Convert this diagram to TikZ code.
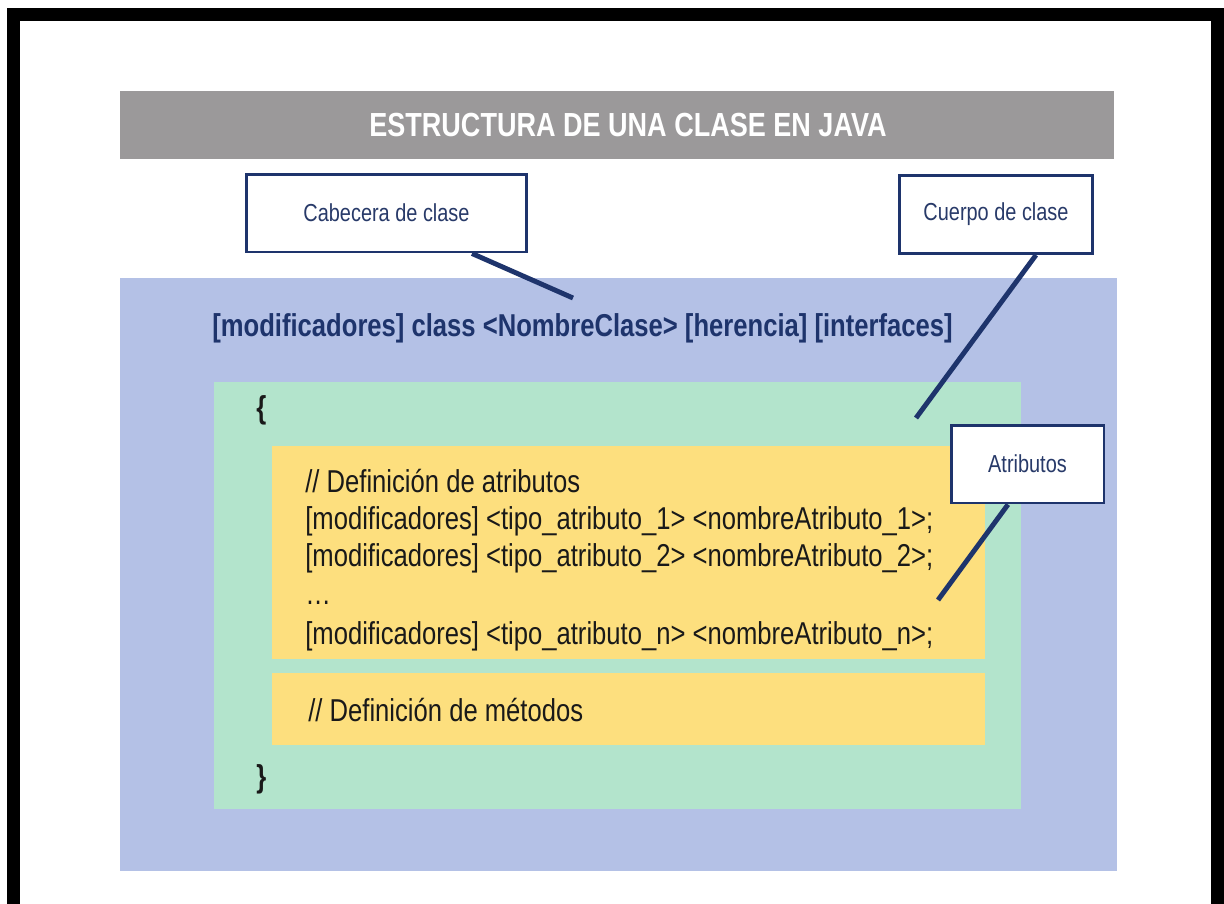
\documentclass[tikz,border=0pt]{standalone}
\usepackage{fontspec}
\setmainfont{Liberation Sans}[FakeStretch=0.81]
\usetikzlibrary{fit}
\definecolor{gristitulo}{RGB}{155,153,154}
\definecolor{azulzona}{RGB}{180,193,230}
\definecolor{verdezona}{RGB}{179,228,204}
\definecolor{amarillozona}{RGB}{253,223,126}
\definecolor{azuloscuro}{RGB}{30,52,108}
\definecolor{azultexto}{RGB}{40,58,105}
\begin{document}
\begin{tikzpicture}
    [x=0.02cm, y=-0.02cm,
    zona/.style={inner sep=0pt, outer sep=0pt},
    llamada/.style={draw=azuloscuro, line width=1.7pt, fill=white, text=azultexto,
      minimum height=1.56cm, font=\fontsize{14}{16}\selectfont},
    conector/.style={azuloscuro, line width=2.8pt},
    codigo/.style={anchor=base west, inner sep=0pt, text=black!90,
      font=\fontsize{18}{21}\selectfont}]
    \useasboundingbox (0,0) rectangle (1224,903);
    % marco negro
    \draw[line width=0.26cm] (13.5,920) -- (13.5,14) -- (1217.5,14) -- (1217.5,920);
    % titulo
    \node[zona, fill=gristitulo, fit={(120,91) (1114,159)}] (titulo) {};
    \node[text=white, font=\fontsize{19}{22}\bfseries\selectfont] (titulotexto) at (628,125)
      {ESTRUCTURA DE UNA CLASE EN JAVA};
    % zonas de color
    \node[zona, fill=azulzona, fit={(120,278) (1117,871)}] (zonaclase) {};
    \node[zona, fill=verdezona, fit={(214,382) (1021,809)}] (zonacuerpo) {};
    \node[zona, fill=amarillozona, fit={(272,446) (985,659)}] (zonaatributos) {};
    \node[zona, fill=amarillozona, fit={(272,673) (985,745)}] (zonametodos) {};
    % textos
    \node[codigo, text=azuloscuro, font=\fontsize{18}{21}\bfseries\selectfont] (cabeceratexto) at (212,336)
      {[modificadores] class <NombreClase> [herencia] [interfaces]};
    \node[codigo, font=\fontsize{18}{21}\bfseries\selectfont] (abre) at (256,418) {\{};
    \node[codigo, font=\fontsize{18}{21}\bfseries\selectfont] (cierra) at (256,787) {\}};
    \node[codigo] (linea1) at (305,492) {// Definición de atributos};
    \node[codigo] (linea2) at (305,529) {[modificadores] <tipo\_atributo\_1> <nombreAtributo\_1>;};
    \node[codigo] (linea3) at (305,566) {[modificadores] <tipo\_atributo\_2> <nombreAtributo\_2>;};
    \node[codigo] (linea4) at (305,604) {…};
    \node[codigo] (linea5) at (305,644) {[modificadores] <tipo\_atributo\_n> <nombreAtributo\_n>;};
    \node[codigo] (metodostexto) at (308,721) {// Definición de métodos};
    % llamadas
    \node[llamada, minimum width=5.62cm] (cabecera) at (386.5,213) {Cabecera de clase};
    \node[llamada, minimum width=3.88cm] (cuerpo) at (996,214.5) {Cuerpo de clase};
    \node[llamada, minimum width=3.06cm] (atributos) at (1027.5,464) {Atributos};
    \coordinate (fincabecera) at (573,298);
    \coordinate (fincuerpo) at (916,418);
    \coordinate (finatributos) at (938,600);
    \draw[conector] ([xshift=1.71cm]cabecera.south) -- (fincabecera);
    \draw[conector] ([xshift=0.8cm]cuerpo.south) -- (fincuerpo);
    \draw[conector] ([xshift=-0.39cm]atributos.south) -- (finatributos);
  \end{tikzpicture}
\end{document}
